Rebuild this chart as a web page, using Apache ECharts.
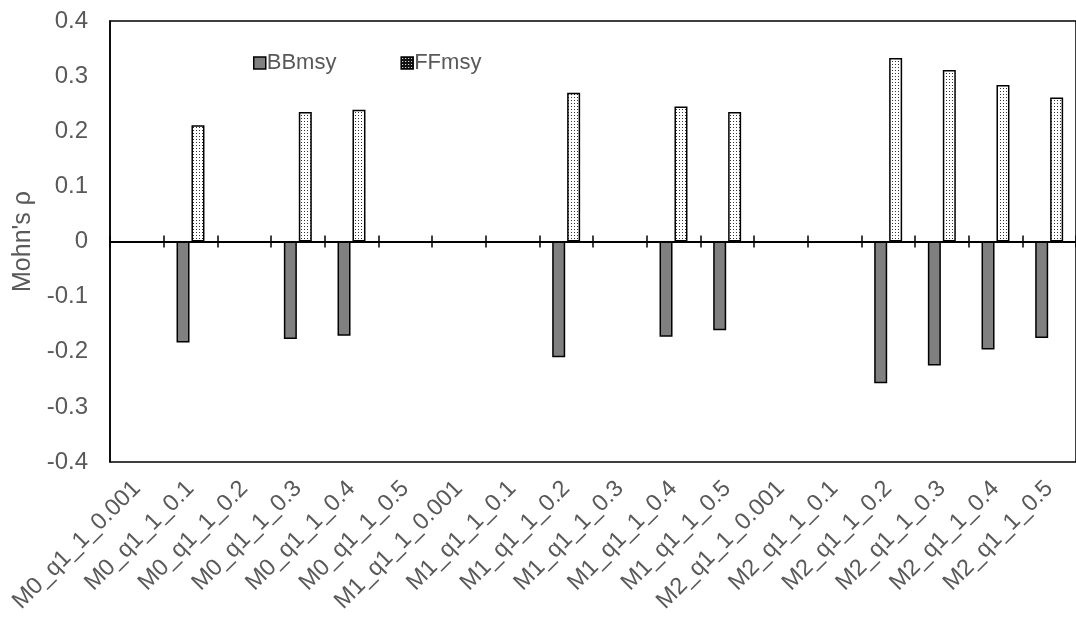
<!DOCTYPE html>
<html>
<head>
<meta charset="utf-8">
<script src="https://cdn.jsdelivr.net/npm/echarts@6/dist/echarts.min.js"></script>
<style>
html,body{margin:0;padding:0;background:#fff;}
#chart{width:1076px;height:619px;}
</style>
</head>
<body>
<div id="chart"></div>
<script>
const categories = [
  'M0_q1_1_0.001','M0_q1_1_0.1','M0_q1_1_0.2','M0_q1_1_0.3','M0_q1_1_0.4','M0_q1_1_0.5',
  'M1_q1_1_0.001','M1_q1_1_0.1','M1_q1_1_0.2','M1_q1_1_0.3','M1_q1_1_0.4','M1_q1_1_0.5',
  'M2_q1_1_0.001','M2_q1_1_0.1','M2_q1_1_0.2','M2_q1_1_0.3','M2_q1_1_0.4','M2_q1_1_0.5'
];
const bbmsy = [null, -0.183, null, -0.177, -0.171, null, null, null, -0.210, null, -0.173, -0.161, null, null, -0.257, -0.225, -0.196, -0.175];
const ffmsy = [null, 0.211, null, 0.235, 0.239, null, null, null, 0.270, null, 0.245, 0.235, null, null, 0.333, 0.311, 0.284, 0.261];
const seriesNames = ['BBmsy', 'FFmsy'];
const yTicks = { min: -0.4, max: 0.4, interval: 0.1 };
const yTitle = "Mohn's ρ";

function makePattern(bg, dot) {
  const c = document.createElement('canvas');
  c.width = 3; c.height = 3;
  const ctx = c.getContext('2d');
  ctx.fillStyle = bg;
  ctx.fillRect(0, 0, 3, 3);
  ctx.fillStyle = dot;
  ctx.fillRect(1, 1, 1, 1);
  return c;
}
const barPattern = makePattern('#ffffff', '#333333');
const legendPattern = makePattern('#111111', '#ffffff');

const FONT = '"Liberation Sans", Arial, sans-serif';
const TXT = '#595959';

const chart = echarts.init(document.getElementById('chart'), null, { renderer: 'canvas' });
chart.setOption({
  animation: false,
  backgroundColor: '#fff',
  textStyle: { fontFamily: FONT },
  grid: { left: 110, top: 21, width: 972, height: 441, show: true, borderColor: '#000', borderWidth: 1.5, containLabel: false },
  legend: {
    left: 248, top: 47, itemWidth: 12, itemHeight: 12, itemGap: 64, icon: 'rect',
    textStyle: { color: TXT, fontSize: 22, fontFamily: FONT, padding: [0, 0, 0, -4] },
    data: [
      { name: seriesNames[0], itemStyle: { color: '#808080', borderColor: '#000', borderWidth: 1.5 } },
      { name: seriesNames[1], itemStyle: { color: { image: legendPattern, repeat: 'repeat' }, borderColor: '#000', borderWidth: 1.5 } }
    ]
  },
  xAxis: [
    {
      type: 'category', data: categories, position: 'bottom',
      axisLine: { show: false, onZero: false }, axisTick: { show: false },
      axisLabel: { rotate: 45, interval: 0, color: TXT, fontSize: 23.5, fontFamily: FONT, margin: 23 }
    },
    {
      type: 'category', data: categories, position: 'bottom',
      axisLine: { show: true, onZero: true, onZeroAxisIndex: 0, lineStyle: { color: '#000', width: 2 } },
      axisTick: { show: true, inside: false, length: 6, interval: 0, lineStyle: { color: '#000', width: 1.5 } },
      axisLabel: { show: false }
    },
    {
      type: 'category', data: categories, position: 'bottom',
      axisLine: { show: false, onZero: true, onZeroAxisIndex: 1 },
      axisTick: { show: true, inside: true, length: 6, interval: 0, lineStyle: { color: '#000', width: 1.5 } },
      axisLabel: { show: false }
    }
  ],
  yAxis: [
    {
      type: 'value', min: yTicks.min, max: yTicks.max, interval: yTicks.interval,
      name: yTitle, nameLocation: 'middle', nameGap: 64, nameRotate: 90,
      nameTextStyle: { color: TXT, fontSize: 25, fontFamily: FONT },
      axisLine: { show: true, onZero: false, lineStyle: { color: '#000', width: 1.5 } },
      axisTick: { show: false },
      splitLine: { show: false },
      axisLabel: { color: TXT, fontSize: 24, fontFamily: FONT, margin: 22,
        formatter: v => { const r = Math.round(v * 10) / 10; return r === 0 ? '0' : String(r); } }
    },
    {
      type: 'value', min: yTicks.min, max: yTicks.max, interval: yTicks.interval, show: false,
      axisLine: { onZero: false }, splitLine: { show: false }
    }
  ],
  series: [
    {
      name: seriesNames[0], type: 'bar', data: bbmsy, xAxisIndex: 1, yAxisIndex: 0,
      barWidth: 13, barGap: '15%',
      itemStyle: { color: '#808080', borderColor: '#000', borderWidth: 1.5 }
    },
    {
      name: seriesNames[1], type: 'bar', data: ffmsy, xAxisIndex: 1, yAxisIndex: 0,
      barWidth: 13, barGap: '15%',
      itemStyle: { color: { image: barPattern, repeat: 'repeat' }, borderColor: '#000', borderWidth: 1.5 }
    }
  ]
});
</script>
</body>
</html>
